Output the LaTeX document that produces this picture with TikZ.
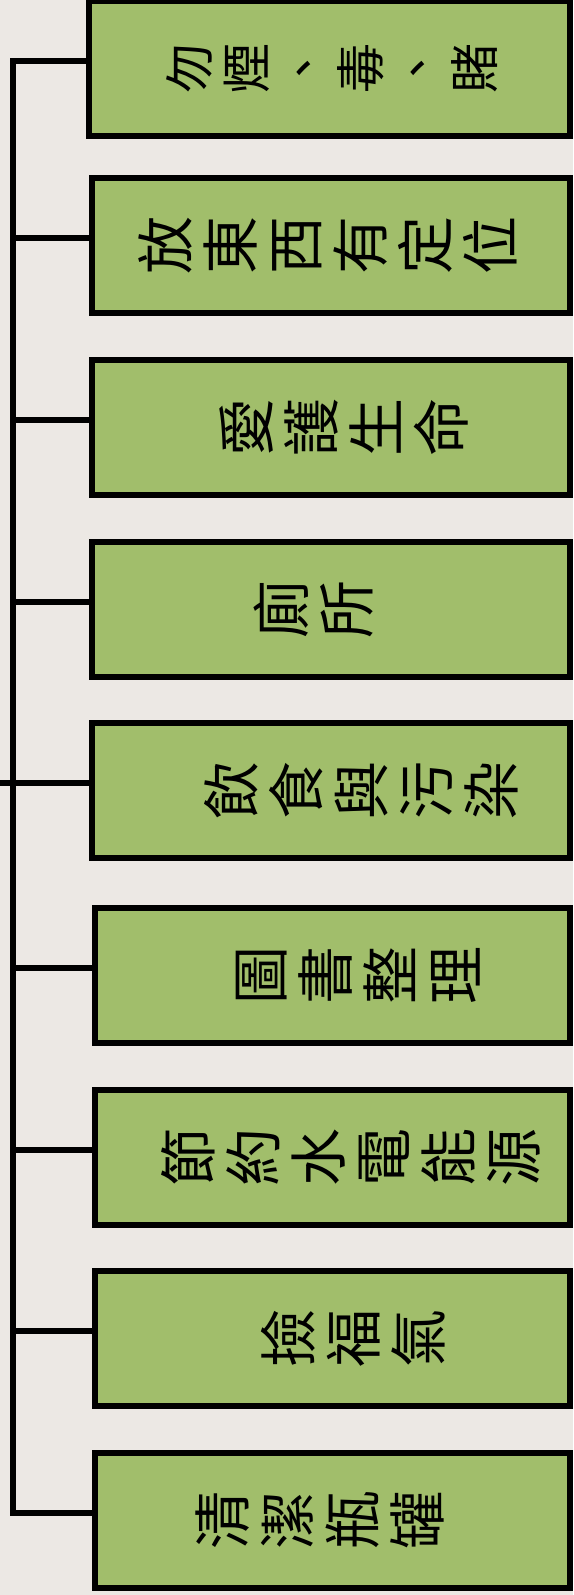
\documentclass[tikz,border=0pt]{standalone}
\usepackage{fontspec}
\newfontfamily\cjk{Noto Sans CJK TC}
\usetikzlibrary{positioning,calc}
\definecolor{leafgreen}{RGB}{161,190,107}
\definecolor{paper}{RGB}{236,232,228}
\tikzset{
	leaf/.style={draw=black, fill=leafgreen, line width=6pt, minimum height=135pt, inner sep=0pt},
	leaftext/.style={font=\cjk\fontsize{58}{65}\selectfont, rotate=90, align=center, inner sep=0pt},
	link/.style={line width=6pt, black}
}

\begin{document}
\begin{tikzpicture}[x=1pt,y=1pt]
	\fill[paper] (0,0) rectangle (573,-1595);
	\useasboundingbox (0,0) rectangle (573,-1595);
				\node[leaf, minimum width=481pt] (b1) at (329.5,-68.5) {};
				\node[leaf, minimum width=478pt] (b2) at (331,-245.5) {};
				\node[leaf, minimum width=478pt] (b3) at (331,-427.5) {};
				\node[leaf, minimum width=478pt] (b4) at (331,-609) {};
				\node[leaf, minimum width=478pt] (b5) at (331,-790.5) {};
				\node[leaf, minimum width=475pt] (b6) at (332.5,-975.5) {};
				\node[leaf, minimum width=475pt] (b7) at (332.5,-1157) {};
				\node[leaf, minimum width=475pt] (b8) at (332.5,-1338.5) {};
				\node[leaf, minimum width=475pt] (b9) at (332.5,-1520) {};
				\node[leaftext, font=\cjk\fontsize{50}{57}\selectfont] (t1) at ([xshift=3pt]b1.center) {勿\\煙\\、\\毒\\、\\賭};
				\node[leaftext] (t2) at ([xshift=-3pt]b2.center) {放\\東\\西\\有\\定\\位};
				\node[leaftext] (t3) at ([xshift=13pt]b3.center) {愛\\護\\生\\命};
				\node[leaftext] (t4) at ([xshift=-17pt]b4.center) {廁\\所};
				\node[leaftext] (t5) at ([xshift=30pt]b5.center) {飲\\食\\與\\污\\染};
				\node[leaftext] (t6) at ([xshift=26pt]b6.center) {圖\\書\\整\\理};
				\node[leaftext] (t7) at ([xshift=18pt]b7.center) {節\\約\\水\\電\\能\\源};
				\node[leaftext] (t8) at ([xshift=21pt]b8.center) {撿\\福\\氣};
				\node[leaftext] (t9) at ([xshift=-13pt]b9.center) {清\\潔\\瓶\\罐};
				\coordinate (bend) at (13,-1512.5);
				\coordinate (root) at (0,-783);
				\draw[link] ([yshift=7.5pt]b1.west) -| (bend) -- ([yshift=7.5pt]b9.west);
				\foreach \i in {2,...,8} {
					\coordinate (c\i) at ([yshift=7.5pt]b\i.west);
					\draw[link] (c\i) -- (c\i -| bend);
				}
				\draw[link] (root) -- (root -| bend);
	\end{tikzpicture}
\end{document}
